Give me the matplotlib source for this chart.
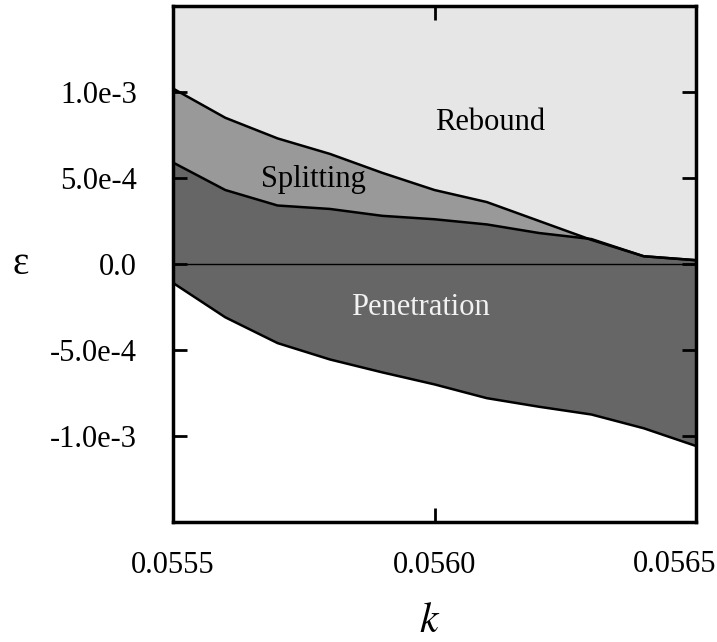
import numpy as np
import matplotlib
matplotlib.use('Agg')
import matplotlib.pyplot as plt

plt.rcParams['font.family'] = ['Liberation Serif', 'DejaVu Serif']
plt.rcParams['mathtext.fontset'] = 'stix'

# boundary curves, eps in units of 1e-3, sampled every 0.0001 in k
k = np.array([0.0555, 0.0556, 0.0557, 0.0558, 0.0559, 0.0560,
              0.0561, 0.0562, 0.0563, 0.0564, 0.0565])
eps_rebound = np.array([1.02, 0.85, 0.73, 0.64, 0.53, 0.43,
                        0.36, 0.25, 0.14, 0.045, 0.022])
eps_split = np.array([0.59, 0.43, 0.34, 0.32, 0.28, 0.26,
                      0.23, 0.18, 0.145, 0.045, 0.022])
eps_pen = np.array([-0.11, -0.31, -0.46, -0.555, -0.63, -0.70,
                    -0.78, -0.83, -0.875, -0.955, -1.058])

xticks = [0.0555, 0.0560, 0.0565]
xticklabels = ['0.0555', '0.0560', '0.0565']
yticks = [-1.0e-3, -5.0e-4, 0.0, 5.0e-4, 1.0e-3]
yticklabels = ['-1.0e-3', '-5.0e-4', '0.0', '5.0e-4', '1.0e-3']

ymin, ymax = -1.5e-3, 1.5e-3
up = eps_rebound * 1e-3
mid = eps_split * 1e-3
low = eps_pen * 1e-3

fig = plt.figure(figsize=(7.17, 6.42), dpi=100)
ax = fig.add_axes([0.2413, 0.1869, 0.7294, 0.8038])

ax.fill_between(k, up, ymax, color='#e6e6e6', lw=0)
ax.fill_between(k, mid, up, color='#999999', lw=0)
ax.fill_between(k, low, mid, color='#666666', lw=0)

ax.axhline(0.0, color='black', lw=1.0)
for curve in (up, mid, low):
    ax.plot(k, curve, color='black', lw=1.8)

ax.text(0.056106, 0.82e-3, 'Rebound', fontsize=22, ha='center', va='center')
ax.text(0.055769, 0.49e-3, 'Splitting', fontsize=22, ha='center', va='center')
ax.text(0.055973, -0.255e-3, 'Penetration', fontsize=22, ha='center',
        va='center', color='#f2f2f2')

ax.set_xlim(0.0555, 0.0565)
ax.set_ylim(ymin, ymax)
ax.set_xticks(xticks)
# last label sits flush with the right edge of the figure
ax.set_xticklabels(xticklabels[:-1] + [''])
ax.set_yticks(yticks)
ax.set_yticklabels(yticklabels)
ax.tick_params(direction='in', length=10, width=2, top=True, right=True,
               labelsize=22)
ax.tick_params(axis='x', pad=21)
ax.tick_params(axis='y', pad=26)
for s in ax.spines.values():
    s.set_linewidth(2.5)

fig.text(716 / 717, 1 - 564 / 642, xticklabels[-1], fontsize=22,
         ha='right', va='center')
fig.text(21 / 717, 1 - 264 / 642, 'ε', fontsize=28,
         ha='center', va='center')
fig.text(430 / 717, 1 - 622 / 642, r'$k$', fontsize=30,
         ha='center', va='center')

fig.savefig('out.png', dpi=100)
